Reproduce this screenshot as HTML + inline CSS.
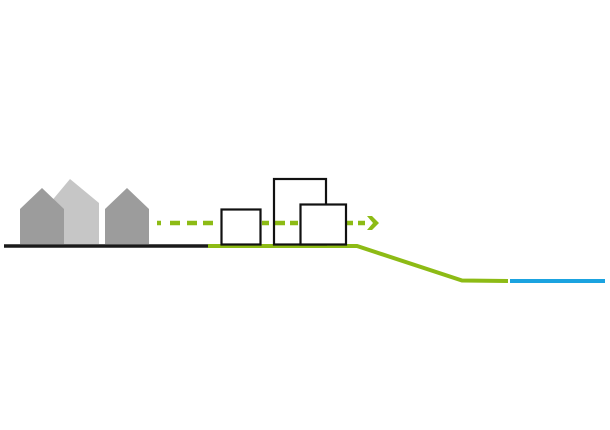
<!DOCTYPE html>
<html><head><meta charset="utf-8"><style>html,body{margin:0;padding:0;background:#fff;width:610px;height:430px;overflow:hidden}</style></head>
<body>
<svg width="610" height="430" viewBox="0 0 610 430" xmlns="http://www.w3.org/2000/svg">
<polygon points="50,203 70,179 99,203 99,244 50,244" fill="#c6c6c6"/>
<polygon points="20,209 42,188 64,209 64,244 20,244" fill="#9c9c9c"/>
<polygon points="105,209 127,188 149,209 149,244 105,244" fill="#9c9c9c"/>
<line x1="4" y1="246" x2="208" y2="246" stroke="#1a1a1a" stroke-width="3.5"/>
<polyline points="208,246 357,246 462,280.5 508,281" fill="none" stroke="#8dbb15" stroke-width="4"/>
<line x1="510" y1="281" x2="605" y2="281" stroke="#1ba3e0" stroke-width="4"/>
<g stroke="#8dbb15" stroke-width="4.5">
<line x1="157" y1="223" x2="161" y2="223"/>
<line x1="170" y1="223" x2="180" y2="223"/>
<line x1="187" y1="223" x2="197" y2="223"/>
<line x1="203" y1="223" x2="213" y2="223"/>
<line x1="262" y1="223" x2="269" y2="223"/>
<line x1="275" y1="223" x2="285" y2="223"/>
<line x1="290" y1="223" x2="298" y2="223"/>
<line x1="347" y1="223" x2="353" y2="223"/>
<line x1="358" y1="223" x2="365" y2="223"/>
</g>
<polygon points="367,216 372,216 379,223 372,230 367,230 373,223" fill="#8dbb15"/>
<rect x="221.5" y="209.5" width="39" height="35" fill="#fff" stroke="#111" stroke-width="2.2"/>
<rect x="274" y="179" width="52" height="65.5" fill="none" stroke="#111" stroke-width="2.2"/>
<rect x="300.5" y="204.5" width="45.5" height="40" fill="#fff" stroke="#111" stroke-width="2.2"/>
</svg>
</body></html>
